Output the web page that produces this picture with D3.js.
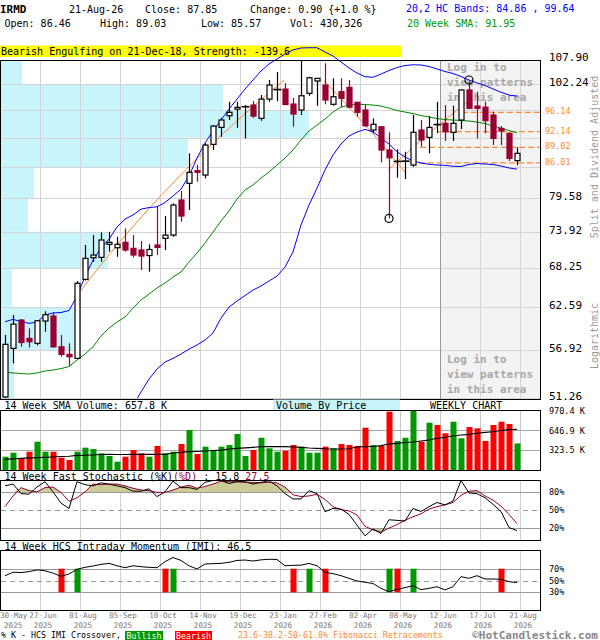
<!DOCTYPE html>
<html><head><meta charset="utf-8">
<script src="https://cdn.jsdelivr.net/npm/d3@7"></script>
<style>body{margin:0;background:#fff}svg{display:block}text{font-family:"DejaVu Sans Mono",monospace}</style>
</head><body><svg id="c" width="600" height="640"></svg>
<script>
// ---------------- DATA ----------------
const opens  = [51.37,57.18,60.86,58.45,57.82,60.73,61.40,57.38,56.43,55.93,66.56,69.81,69.87,71.90,71.36,72.22,71.26,71.01,70.15,71.79,72.85,73.38,79.27,82.24,84.56,83.76,89.61,93.02,95.44,96.84,97.20,97.71,94.89,99.00,100.90,101.21,97.93,96.65,100.27,103.02,102.11,97.87,100.62,101.59,98.30,96.65,92.48,93.15,88.50,86.10,86.20,85.62,92.48,90.99,93.75,93.85,92.01,94.54,101.00,97.50,97.26,95.59,92.81,91.81,86.46];
const highs  = [58.89,61.54,61.00,59.75,60.86,62.04,61.91,58.89,57.82,66.32,71.79,73.38,73.82,73.92,73.11,74.47,73.38,72.43,71.90,78.10,76.53,78.69,80.86,87.86,85.62,89.81,93.50,95.01,98.43,98.43,97.71,98.58,99.89,103.25,105.09,102.50,99.29,107.90,103.99,103.70,107.12,103.63,103.63,103.25,98.43,97.71,94.89,93.20,92.01,88.62,88.17,95.59,94.54,95.37,98.43,97.71,97.56,101.16,103.00,100.62,98.43,96.29,93.29,92.01,89.03];
const lows   = [51.26,55.33,57.38,57.30,57.56,59.32,57.25,56.13,55.03,55.85,66.40,69.20,69.20,70.74,69.96,70.74,69.87,67.95,67.70,70.23,71.01,73.11,75.58,77.55,82.53,83.14,88.50,91.12,94.54,92.94,90.79,95.01,94.39,98.43,98.52,97.71,93.15,95.59,99.73,97.56,97.87,97.56,97.26,96.99,95.22,93.15,91.81,86.13,76.13,83.26,83.01,85.29,89.14,87.86,91.81,90.27,90.27,92.69,96.90,90.79,91.81,89.47,89.47,86.38,85.57];
const closes = [57.69,60.32,57.92,58.02,60.77,61.58,57.38,56.43,56.13,65.99,69.71,70.23,72.59,72.22,71.90,71.01,70.23,70.07,71.09,71.42,73.38,78.40,76.53,84.26,84.26,89.47,93.29,94.54,96.16,97.21,97.35,95.37,99.00,102.11,101.10,97.82,95.80,99.73,103.76,103.63,98.80,99.51,99.16,97.26,96.16,93.35,93.65,88.50,87.00,86.30,86.35,92.01,90.47,93.02,93.60,92.13,93.85,101.00,97.00,97.00,94.39,90.79,92.28,86.88,87.85];
const sma20  = [54.28,54.16,54.10,54.04,54.16,54.40,54.52,54.69,54.93,55.73,56.47,57.38,58.75,59.79,60.59,61.26,62.48,63.60,64.45,65.30,66.03,66.90,67.65,69.15,70.54,72.11,73.87,75.69,77.38,79.44,81.04,81.93,83.20,84.32,85.62,86.94,88.50,90.47,92.28,93.50,94.74,96.22,97.28,97.71,97.87,97.82,97.71,97.50,97.06,96.54,96.22,95.90,95.48,95.16,94.85,94.64,94.54,94.44,94.33,94.12,93.81,93.29,92.88,92.38,91.95];
const bandUpper = [60.63,60.95,60.66,60.42,60.59,61.54,61.81,61.88,62.15,64.16,66.95,69.46,71.31,72.73,74.69,76.01,76.70,77.70,77.96,78.10,78.83,79.97,81.20,83.57,86.94,89.87,92.28,94.54,96.84,99.00,101.21,103.25,105.32,106.95,108.14,109.33,110.30,110.79,110.86,110.86,109.82,108.86,107.43,106.02,104.85,104.00,103.87,104.62,105.43,106.13,106.60,106.77,106.72,106.37,105.79,105.20,104.74,104.05,103.25,102.57,102.01,101.23,100.50,99.89,99.64];
const bandLower = [null,null,null,null,null,null,null,null,null,null,null,null,null,null,null,null,50.40,51.94,53.44,54.63,55.48,55.93,56.47,57.09,57.60,58.24,59.15,61.12,62.62,63.46,64.23,65.02,65.59,66.32,67.05,68.39,70.70,75.03,78.40,81.38,84.69,87.53,89.67,91.26,92.07,92.61,92.13,90.85,89.67,88.17,87.14,86.38,86.00,85.76,85.62,85.57,85.38,85.35,85.72,85.91,85.81,85.72,85.43,85.07,84.86];
const volumes = [215,280,189,296,458,296,296,199,162,296,361,340,270,226,134,215,323,270,215,388,270,296,420,647,259,377,323,377,404,582,226,323,522,351,296,312,404,377,280,280,377,351,420,404,388,684,404,388,943,469,522,970,458,765,728,594,781,513,695,674,469,728,781,744,430];
const volSMA = [173,181,189,196,199,204,210,218,222,238,239,243,251,254,251,251,254,254,254,254,254,275,286,296,299,307,315,323,340,351,359,367,377,377,377,377,372,367,356,351,344,340,340,344,372,377,380,393,420,432,445,453,469,485,513,530,550,566,577,594,610,619,639,652,658];
const stochK = [91,94,78,77,89,98,81,62,53,98,93,91,96,94,91,88,82,82,86,73,81,99,88,88,85,97,100,100,95,98,98,94,97,99.5,91,78,69,69,83,78,47.6,53,52,43,25,7,18.5,11,34,33,32,53,48,56,63,59,65.5,100,79,78,71,60,48,21,15.8];
const stochD = [56,74,88,83,81,88,89,80,65,71,81,94,93,94,94,91,87,84,83,80,80,84,89,92,87,90,94,99,98,98,97,97,96,97,96,89,76,73,74,77,68,56,51,49,42,23,17,13,20,26,33,39,44,52,56,59,63,75,82,83,74,67,57,43,27.5];
const imi = [58,64,63.5,65,68,66.5,62.5,57,61,69,72.3,74.6,77.4,79,75,71.7,75,73.4,72.3,71.7,81.9,89,84,75,69.5,78,78.5,79,80.8,84,84.7,83,85,86,85.6,75,75.7,76,79,75,64,61.6,58.2,53.7,49.2,47,45,36.7,31,35,37.9,41.2,34.5,36.7,39.5,34,39.5,56.5,53.7,58.2,52.5,52.5,52,48,46.5];
const imiCrossWeeks = [7,9,20,21,36,38,40,48,49,51,62];
const imiCrossTypes = ["bear","bull","bear","bull","bear","bull","bear","bull","bear","bull","bear"];
const priceTicks = [107.90,102.24,96.58,90.92,85.26,79.58,73.92,68.25,62.59,56.92,51.26];
const priceTickShown = ["107.90","102.24","","","","79.58","73.92","68.25","62.59","56.92","51.26"];
const vbpVolume = [2.1,22.2,30.8,18.7,3.3,2.7,10.7,1.1,7.5,1.3];
const fibLevels = [96.14,92.14,89.02,86.01];
const fibStartWeek = [57.1,54.1,51.9,50.6];
const trendLines = [[[9.25,64.6],[34.9,103.25]],[[39.9,103.0],[50.0,84.3]],[[47.9,84.69],[57.9,98.6]]];
const pivotWeeks = [48,58];
const pivotPrices = [76.13,103.25];
const volTicks = [970.4,646.9,323.5];
const volTickLabels = ["970.4 K","646.9 K","323.5 K"];
const stochTicks = [80,50,20];
const imiTicks = [70,50,30];
const dateTickWeeks = [0,4,9,14,19,24,29,34,39,44,49,54,59,64];
const dateTickDay = ["30-May","27-Jun","01-Aug","05-Sep","10-Oct","14-Nov","19-Dec","23-Jan","27-Feb","02-Apr","08-May","12-Jun","17-Jul","21-Aug"];
const dateTickYear = ["2025","2025","2025","2025","2025","2025","2025","2026","2026","2026","2026","2026","2026","2026"];

// ---------------- CHART ----------------
const svg = d3.select("#c");
const N = closes.length, idx = d3.range(N);
const MAROON = "#990033", GRID = "#d4d4d4";
const x = d3.scaleLinear().domain([0, N-1]).range([5, 517]);
const y = d3.scaleLog().domain([51.26, 107.90]).range([398, 60]);
const yv = d3.scaleLinear().domain([0, 970.4]).range([470, 410]);
const ys = d3.scaleLinear().domain([0, 100]).range([540, 480.5]);
const yi = d3.scaleLinear().domain([0, 100]).range([610, 551]);
const vbpX = d3.scaleLinear().domain([0, d3.max(vbpVolume)]).range([0, 308]);
const gridWeeks = dateTickWeeks.slice(1);
const gx = k => Math.round(x(k)) + 3.5;
function txt(g, s, px, py, o) {
  o = o || {};
  const t = g.append("text").attr("x", px).attr("y", py).text(s)
    .attr("font-size", o.size || 10).attr("fill", o.fill || "#000");
  if (o.bold) t.attr("font-weight", "bold");
  if (o.anchor) t.attr("text-anchor", o.anchor);
  return t;
}
// Header
const hd = svg.append("g");
txt(hd, "IRMD", 0, 13, {size: 11, bold: true});
txt(hd, "21-Aug-26", 69, 13);
txt(hd, "Close: 87.85", 145, 13);
txt(hd, "Change: 0.90 {+1.0 %}", 250, 13);
txt(hd, "20,2 HC Bands: 84.86 , 99.64", 406, 12, {fill: "#0000ff"});
txt(hd, "Open: 86.46", 4.5, 27);
txt(hd, "High: 89.03", 100, 27);
txt(hd, "Low: 85.57", 201, 27);
txt(hd, "Vol: 430,326", 290, 27);
txt(hd, "20 Week SMA: 91.95", 407, 27, {fill: "#009900"});
hd.append("rect").attr("x", 0).attr("y", 45.5).attr("width", 402).attr("height", 11.5).attr("fill", "#ffff00");
txt(hd, "Bearish Engulfing on 21-Dec-18, Strength: -139.6", 1, 55);

// Price panel
const pg = svg.append("g");
pg.selectAll(".vbp").data(vbpVolume).join("rect")
  .attr("x", 1).attr("y", (d, i) => y(priceTicks[i])).attr("width", d => vbpX(d))
  .attr("height", (d, i) => y(priceTicks[i+1]) - y(priceTicks[i])).attr("fill", "#c8f4fc");
pg.append("rect").attr("x", 440).attr("y", 60).attr("width", 100).attr("height", 339).attr("fill", "#f3f3f3");
pg.selectAll(".hg").data(priceTicks).join("line")
  .attr("x1", 1).attr("x2", 540).attr("y1", d => Math.round(y(d)) + 0.5).attr("y2", d => Math.round(y(d)) + 0.5)
  .attr("stroke", GRID);
pg.selectAll(".vg").data(gridWeeks).join("line")
  .attr("x1", d => gx(d)).attr("x2", d => gx(d)).attr("y1", 60).attr("y2", 399).attr("stroke", GRID);
pg.append("line").attr("x1", 440.5).attr("x2", 440.5).attr("y1", 60).attr("y2", 399).attr("stroke", "#999");
["Log in to", "view patterns", "in this area"].forEach((s, i) => {
  txt(pg, s, 447, 71 + i*15, {size: 11, bold: true, fill: "#a8a8a8"});
  txt(pg, s, 447, 363 + i*15, {size: 11, bold: true, fill: "#a8a8a8"});
});
// fib levels
pg.selectAll(".fib").data(fibLevels).join("line")
  .attr("x1", (d, i) => x(fibStartWeek[i])).attr("x2", 540)
  .attr("y1", d => y(d)).attr("y2", d => y(d))
  .attr("stroke", "#ff8833").attr("stroke-width", 1.2).attr("stroke-dasharray", "6,3");
// trend lines (straight in price space)
const tl = d3.line().x(d => x(d[0])).y(d => y(d[1]));
trendLines.forEach(seg => {
  const pts = d3.range(0, 21).map(t => [seg[0][0] + (seg[1][0]-seg[0][0])*t/20, seg[0][1] + (seg[1][1]-seg[0][1])*t/20]);
  pg.append("path").attr("d", tl(pts)).attr("fill", "none").attr("stroke", "#ff8833").attr("stroke-width", 1);
});
// SMA & bands
const ln = arr => d3.line().defined(i => arr[i] != null).x(i => x(i)).y(i => y(arr[i]))(idx);
pg.append("path").attr("d", ln(sma20)).attr("fill", "none").attr("stroke", "#008800");
pg.append("path").attr("d", ln(bandUpper)).attr("fill", "none").attr("stroke", "#0000ff");
svg.append("clipPath").attr("id", "pclip").append("rect").attr("x", 0).attr("y", 0).attr("width", 541).attr("height", 398);
pg.append("path").attr("d", ln(bandLower)).attr("fill", "none").attr("stroke", "#0000ff").attr("clip-path", "url(#pclip)");
// candles
const cg = pg.append("g");
idx.forEach(i => {
  const o = opens[i], c = closes[i], up = c >= o;
  const cx = Math.round(x(i)) + 0.5;
  const doji = Math.abs(y(o) - y(c)) < 1.6;
  const col = (up || doji) ? "#000" : MAROON;
  cg.append("line").attr("x1", cx).attr("x2", cx).attr("y1", y(highs[i])).attr("y2", y(lows[i])).attr("stroke", col).attr("stroke-width", 1.2);
  if (doji) {
    cg.append("line").attr("x1", cx - 4).attr("x2", cx + 4).attr("y1", y(c)).attr("y2", y(c)).attr("stroke", "#000").attr("stroke-width", 1.6);
  } else {
    const top = y(Math.max(o, c)), bot = y(Math.min(o, c));
    cg.append("rect").attr("x", cx - 2.5).attr("y", top).attr("width", 5).attr("height", bot - top)
      .attr("fill", up ? "#fff" : MAROON).attr("stroke", col).attr("stroke-width", 1.2);
  }
});
pivotWeeks.forEach((k, i) => {
  pg.append("circle").attr("cx", x(k)).attr("cy", y(pivotPrices[i])).attr("r", 4)
    .attr("fill", "none").attr("stroke", "#000").attr("stroke-width", 1.2);
});
pg.append("rect").attr("x", 0.5).attr("y", 60.5).attr("width", 540).attr("height", 339).attr("fill", "none").attr("stroke", "#000");
priceTicks.forEach((d, i) => {
  if (priceTickShown[i]) txt(pg, priceTickShown[i], 549, i === 0 ? 61 : y(d) + 2, {size: 11});
});
fibLevels.forEach(d => txt(pg, d.toFixed(2), 545, y(d) + 2, {size: 8.5, fill: "#ff8833"}));
txt(pg, "Split and Dividend Adjusted", 0, 0, {size: 10, fill: "#999", anchor: "middle"})
  .attr("transform", "translate(598,157) rotate(-90)");
txt(pg, "Logarithmic", 0, 0, {size: 10, fill: "#999", anchor: "middle"})
  .attr("transform", "translate(598,336) rotate(-90)");

// Volume panel
const vg = svg.append("g");
vg.append("rect").attr("x", 273).attr("y", 399.5).attr("width", 127).attr("height", 10.5).attr("fill", "#c8f4fc");
txt(vg, "14 Week SMA Volume: 657.8 K", 4.5, 409);
txt(vg, "Volume By Price", 276, 409);
txt(vg, "WEEKLY CHART", 430, 409);
vg.selectAll(".vg").data(gridWeeks).join("line")
  .attr("x1", d => gx(d)).attr("x2", d => gx(d)).attr("y1", 410).attr("y2", 470).attr("stroke", "#c8c8c8");
vg.selectAll(".hv").data(volTicks.slice(1)).join("line")
  .attr("x1", 1).attr("x2", 540).attr("y1", d => Math.round(yv(d)) + 0.5).attr("y2", d => Math.round(yv(d)) + 0.5).attr("stroke", "#a8a8a8");
vg.selectAll(".vb").data(volumes).join("rect")
  .attr("x", (d, i) => Math.round(x(i)) - 2.5).attr("width", 6)
  .attr("y", d => yv(d)).attr("height", d => 470 - yv(d))
  .attr("fill", (d, i) => closes[i] >= opens[i] ? "#009900" : "#ff0000");
vg.append("path").attr("d", d3.line().x(i => x(i)).y(i => yv(volSMA[i]))(idx)).attr("fill", "none").attr("stroke", "#000").attr("stroke-width", 1.2);
vg.append("rect").attr("x", 0.5).attr("y", 410.5).attr("width", 540).attr("height", 60).attr("fill", "none").attr("stroke", "#000");
volTicks.forEach((d, i) => txt(vg, volTickLabels[i], 549, yv(d) + 3.5, {size: 8.5}));

// Stochastic panel
const sg = svg.append("g");
const st = txt(sg, "14 Week Fast Stochastic (%K)", 4.5, 479.5);
st.append("tspan").attr("fill", MAROON).text("(%D)");
st.append("tspan").text(" : 15.8 ");
st.append("tspan").attr("fill", MAROON).text("27.5");
sg.selectAll(".vg").data(gridWeeks).join("line")
  .attr("x1", d => gx(d)).attr("x2", d => gx(d)).attr("y1", 481).attr("y2", 540).attr("stroke", "#d0d0d0");
sg.append("path").attr("d", d3.area().x(i => x(i)).y0(ys(80)).y1(i => ys(Math.max(80, stochD[i])))(idx)).attr("fill", "#cccc99");
sg.append("path").attr("d", d3.area().x(i => x(i)).y0(ys(20)).y1(i => ys(Math.min(20, stochD[i])))(idx)).attr("fill", "#cccc99");
stochTicks.forEach(t => sg.append("line").attr("x1", 1).attr("x2", 540).attr("y1", Math.round(ys(t)) + 0.5).attr("y2", Math.round(ys(t)) + 0.5)
  .attr("stroke", "#999").attr("stroke-dasharray", t === 50 ? "5,4" : null));
sg.append("path").attr("d", d3.line().x(i => x(i)).y(i => ys(stochD[i]))(idx)).attr("fill", "none").attr("stroke", MAROON);
sg.append("path").attr("d", d3.line().x(i => x(i)).y(i => ys(stochK[i]))(idx)).attr("fill", "none").attr("stroke", "#000");
sg.append("rect").attr("x", 0.5).attr("y", 480.5).attr("width", 540).attr("height", 60).attr("fill", "none").attr("stroke", "#000");
stochTicks.forEach(t => txt(sg, t + "%", 549, ys(t) + 3, {size: 8.5}));

// IMI panel
const ig = svg.append("g");
txt(ig, "14 Week HCS Intraday Momentum (IMI): 46.5", 4.5, 549.5);
ig.selectAll(".vg").data(gridWeeks).join("line")
  .attr("x1", d => gx(d)).attr("x2", d => gx(d)).attr("y1", 551).attr("y2", 610).attr("stroke", "#d0d0d0");
imiTicks.forEach(t => ig.append("line").attr("x1", 1).attr("x2", 540).attr("y1", Math.round(yi(t)) + 0.5).attr("y2", Math.round(yi(t)) + 0.5)
  .attr("stroke", "#999").attr("stroke-dasharray", t === 50 ? "5,4" : null));
ig.selectAll(".cx").data(imiCrossWeeks).join("rect")
  .attr("x", d => Math.round(x(d)) - 2.5).attr("width", 6)
  .attr("y", yi(70)).attr("height", yi(30) - yi(70))
  .attr("fill", (d, i) => imiCrossTypes[i] === "bull" ? "#009900" : "#ff0000");
ig.append("path").attr("d", d3.line().x(i => x(i)).y(i => yi(imi[i]))(idx)).attr("fill", "none").attr("stroke", "#000");
ig.append("rect").attr("x", 0.5).attr("y", 550.5).attr("width", 540).attr("height", 60).attr("fill", "none").attr("stroke", "#000");
imiTicks.forEach(t => txt(ig, t + "%", 549, yi(t) + 3, {size: 8.5}));

// Date axis
const dg = svg.append("g");
dateTickWeeks.forEach((k, i) => {
  const first = i === 0;
  const px = first ? 0 : x(k) + 6;
  const a = first ? "start" : "middle";
  txt(dg, dateTickDay[i], px, 618, {size: 7.6, fill: "#777", anchor: a});
  txt(dg, dateTickYear[i], first ? 4 : px, 627.5, {size: 7.6, fill: "#777", anchor: a});
});

// Legend
const lg = svg.append("g");
txt(lg, "% K - HCS IMI Crossover,", 1, 638, {size: 8.3});
lg.append("rect").attr("x", 125).attr("y", 631).attr("width", 38).attr("height", 9).attr("fill", "#009900");
txt(lg, "Bullish", 144, 638.5, {size: 8.3, fill: "#fff", anchor: "middle"});
lg.append("rect").attr("x", 175).attr("y", 631).attr("width", 37).attr("height", 9).attr("fill", "#ff0000");
txt(lg, "Bearish", 193.5, 638.5, {size: 8.3, fill: "#fff", anchor: "middle"});
txt(lg, "23.6-38.2-50-61.8% Fibonacci Retracements", 238, 638, {size: 8.3, fill: "#ff8833"});
txt(lg, "©HotCandlestick.com", 598, 638.5, {size: 11, bold: true, fill: "#888", anchor: "end"});
</script></body></html>
